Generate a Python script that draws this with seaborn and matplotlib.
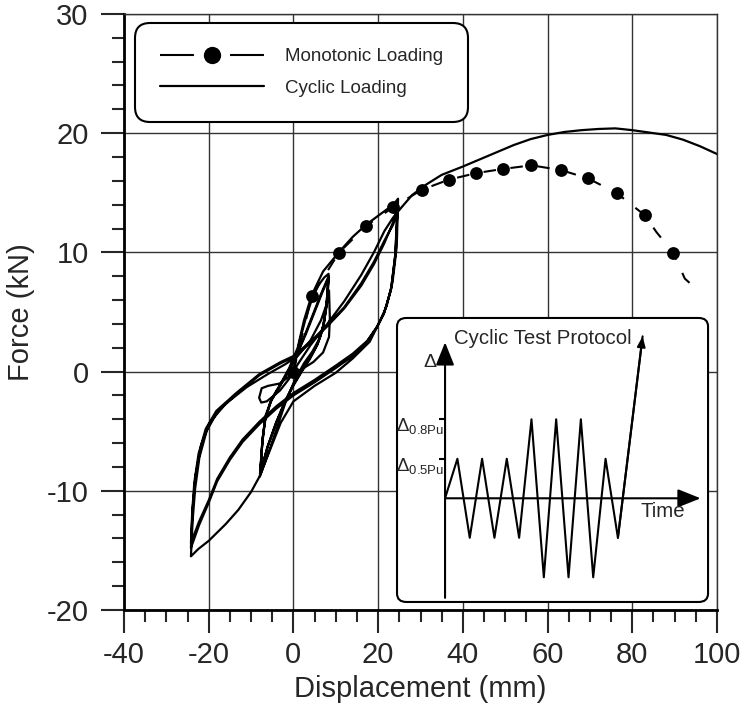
import numpy as np
import matplotlib
matplotlib.use("Agg")
import matplotlib.pyplot as plt
import seaborn as sns
from matplotlib.patches import FancyBboxPatch
from matplotlib.ticker import MultipleLocator
from matplotlib.legend_handler import HandlerTuple

sns.set_style("white")
plt.rcParams['font.family'] = ['Liberation Sans', 'DejaVu Sans']
plt.rcParams['axes.unicode_minus'] = False

# monotonic test: dashed curve and its circle markers (mm, kN)
mono_x = [0, 4.3, 10.7, 17.1, 23.6, 30.3, 36.7, 43.2, 49.5, 56.2, 63.2, 69.6, 76.4, 83.0, 85.7, 89.7, 92.4, 95.2]
mono_y = [0, 6.3, 9.95, 12.2, 13.8, 15.25, 16.1, 16.65, 17.0, 17.3, 16.9, 16.2, 14.95, 13.1, 11.7, 9.95, 7.8, 6.9]
mark_x = [0, 4.3, 10.7, 17.1, 23.6, 30.3, 36.7, 43.2, 49.5, 56.2, 63.2, 69.6, 76.4, 83.0, 89.7]
mark_y = [0, 6.3, 9.95, 12.2, 13.8, 15.25, 16.1, 16.65, 17.0, 17.3, 16.9, 16.2, 14.95, 13.1, 9.95]

# cyclic test, small cycles (+-8 mm)
small_x = [0, 1.5, 3, 4.5, 6, 7.3, 8.3,
           7.9, 7.3, 6.2, 4.5, 2.5, 0.5, -1.5, -3.5, -5.5, -7.9,
           -7.4, -6.8, -5.5, -3.5, -1.5, 0.5, 2.5, 4.5, 6.5, 8.3,
           7.8, 7.0, 5.8, 4.0, 2.0, 0.0, -2.0, -4.0, -6.0, -7.9,
           -7.3, -6.6, -5.2, -3.2, -1.2, 0.8, 3.0, 5.0, 7.0, 8.4,
           7.8, 6.9, 5.6, 3.8, 1.8, -0.2, -2.2, -4.2, -6.2, -7.8]
small_y = [0, 2.6, 4.6, 6.2, 7.3, 7.9, 8.2,
           6.0, 4.2, 2.8, 1.7, 0.7, -0.6, -2.2, -4.3, -6.4, -8.8,
           -6.2, -4.2, -2.6, -1.4, -0.2, 1.2, 2.9, 4.7, 6.5, 8.0,
           5.6, 3.8, 2.4, 1.2, 0.1, -1.1, -2.5, -4.2, -6.2, -8.6,
           -5.8, -3.9, -2.4, -1.2, 0.0, 1.4, 3.2, 5.0, 6.8, 7.9,
           5.4, 3.5, 2.2, 1.0, -0.1, -1.3, -2.7, -4.4, -6.4, -8.5]

# cyclic test, large cycles (+-24 mm)
big_x = [-7.3, -6.5, -5.0, -3.0, -1.0, 1.0, 2.5, 4.3, 7.0, 10.7, 14.0, 17.1, 20.5, 23.6, 24.7,
         24.4, 23.4, 22.0, 20.4, 18.0, 14.0, 10.0, 5.0, 0.0, -3.0, -6.0, -8.0, -10.0, -13.0, -16.0, -20.0, -22.5, -24.2,
         -23.8, -23.2, -22.2, -20.5, -18.0, -13.5, -8.0, -3.0, 0.0, 4.0, 8.0, 12.0, 16.0, 19.0, 21.5, 23.5, 24.6,
         24.1, 23.1, 21.5, 19.8, 17.5, 14.0, 10.0, 5.0, 0.0, -4.0, -8.0, -12.0, -15.0, -18.0, -20.0, -22.3, -24.2,
         -23.9, -23.4, -22.4, -20.7, -18.2, -13.5, -8.0, -3.0, 0.0, 4.0, 8.0, 12.0, 16.0, 19.0, 21.5, 23.5, 24.5,
         24.0, 23.0, 21.3, 19.5, 17.3, 14.0, 10.0, 5.0, 0.0, -4.0, -8.0, -12.0, -15.0, -18.0, -20.0, -22.3, -24.2]
big_y = [-5.6, -3.6, -2.2, -1.0, 0.3, 2.0, 4.3, 6.4, 8.4, 10.0, 11.3, 12.3, 13.2, 14.0, 14.5,
         10.5, 7.5, 5.5, 4.2, 2.5, 1.1, -0.1, -1.2, -2.5, -4.3, -7.0, -8.8, -10.1, -11.6, -12.8, -14.2, -14.9, -15.5,
         -12.5, -9.8, -7.2, -5.0, -3.4, -1.9, -0.3, 0.7, 1.2, 2.4, 3.8, 5.3, 7.2, 9.0, 10.8, 12.5, 13.8,
         10.0, 7.0, 5.0, 3.8, 2.6, 1.5, 0.5, -0.7, -1.8, -2.9, -4.2, -5.7, -7.2, -9.0, -10.8, -12.6, -14.4,
         -11.8, -9.3, -6.9, -4.8, -3.3, -1.8, -0.2, 0.8, 1.3, 2.5, 3.9, 5.4, 7.4, 9.2, 11.0, 12.3, 13.2,
         9.6, 6.8, 4.8, 3.6, 2.5, 1.3, 0.3, -0.9, -2.0, -3.1, -4.4, -5.9, -7.4, -9.2, -11.0, -12.9, -14.8]

# last small cycle and push to failure
push_x = [-23.8, -23.1, -21.8, -19.8, -16.0, -11.0, -6.0, -2.0, 1.0, 4.0, 6.5, 8.0, 8.4,
          8.6, 8.4, 7.0, 4.7, 2.0, -1.0, -3.2, -6.0, -7.5, -8.1,
          -7.6, -6.3, -3.2, -1.0, 1.0, 4.0, 8.0, 12.0, 16.0, 19.0, 21.5, 23.5, 25.1, 28.0, 31.4, 35.0,
          40.0, 44.0, 48.0, 52.0, 56.0, 60.0, 64.0, 68.0, 72.0, 76.0, 80.0, 84.0, 88.0, 92.0, 96.0, 100.0]
push_y = [-11.5, -8.7, -6.2, -4.3, -2.7, -1.3, -0.2, 0.6, 1.3, 2.6, 4.3, 5.8, 6.8,
          4.5, 2.9, 1.6, 0.8, 0.2, -0.4, -1.0, -1.2, -1.4, -2.2,
          -2.6, -2.5, -1.6, -0.6, 0.6, 2.2, 4.0, 5.9, 8.1, 10.0, 11.8, 12.9, 13.6, 14.8, 15.7, 16.5,
          17.2, 17.8, 18.4, 19.0, 19.5, 19.85, 20.1, 20.25, 20.35, 20.4, 20.25, 20.05, 19.85, 19.45, 18.9, 18.25]

# loading protocol sketch (time step, displacement level)
proto_t = [0, 1, 2, 3, 4, 5, 6, 7, 8, 9, 10, 11, 12, 13, 14, 16]
proto_d = [0, 1, -1, 1, -1, 1, -1, 2, -2, 2, -2, 2, -2, 1, -1, 4.1]
level_vals = [1, 2]
level_labels = [r'Δ$_{\mathregular{0.5Pu}}$', r'Δ$_{\mathregular{0.8Pu}}$']

cyc_x = np.concatenate([small_x, big_x, push_x])
cyc_y = np.concatenate([small_y, big_y, push_y])

fig = plt.figure(figsize=(7.43, 7.15), dpi=100)
ax = fig.add_axes([0.1669, 0.1469, 0.7981, 0.8336])

sns.lineplot(x=cyc_x, y=cyc_y, sort=False, estimator=None, color='k', lw=1.6, ax=ax)
sns.lineplot(x=mono_x, y=mono_y, sort=False, estimator=None, color='k', lw=1.5,
             ls=(0, (6, 7)), ax=ax)
sns.scatterplot(x=mark_x, y=mark_y, color='k', s=85, edgecolor='k', linewidth=0, zorder=4, ax=ax)

ax.set_xlim(-40, 100)
ax.set_ylim(-20, 30)
ax.xaxis.set_major_locator(MultipleLocator(20))
ax.xaxis.set_minor_locator(MultipleLocator(5))
ax.yaxis.set_major_locator(MultipleLocator(10))
ax.yaxis.set_minor_locator(MultipleLocator(2))
ax.tick_params(which='major', direction='out', length=16.5, width=1.5, labelsize=21,
               bottom=True, left=True, top=False, right=False)
ax.tick_params(axis='x', which='major', pad=6)
ax.tick_params(axis='y', which='major', pad=9)
ax.tick_params(which='minor', direction='out', length=8.5, width=1.5,
               bottom=True, left=True, top=False, right=False)
ax.grid(True, which='major', color='#333333', lw=1.0)
for side in ['left', 'bottom']:
    ax.spines[side].set_linewidth(2)
    ax.spines[side].set_color('k')
for side in ['top', 'right']:
    ax.spines[side].set_linewidth(1)
    ax.spines[side].set_color('#333333')
ax.set_xlabel('Displacement (mm)', fontsize=21, labelpad=4)
ax.set_ylabel('Force (kN)', fontsize=21, labelpad=8)

# legend: dashed line with a circle on top of it
cyc_line, mono_line = ax.lines[0], ax.lines[1]
mono_pts = ax.collections[0]
leg = ax.legend([(mono_line, mono_pts), cyc_line], ['Monotonic Loading', 'Cyclic Loading'],
                handler_map={tuple: HandlerTuple(ndivide=1)}, loc='upper left',
                bbox_to_anchor=(0.0185, 0.985), borderaxespad=0, fontsize=13.5,
                handlelength=5.55, handletextpad=1.1, borderpad=1.35, labelspacing=0.75,
                markerscale=1.35, scatteryoffsets=[0.5], framealpha=1, edgecolor='k', fancybox=True)
leg.get_frame().set_linewidth(1.5)
leg.get_frame().set_boxstyle('round', pad=0, rounding_size=0.8)
leg.legend_handles[0].set_linestyle((0, (16.3, 17.3)))

# inset with the cyclic test protocol
ax_in = ax.inset_axes([0.4604, 0.0134, 0.5245, 0.4765])
box = FancyBboxPatch((0, 0), 1, 1, boxstyle='round,pad=0,rounding_size=0.03', transform=ax_in.transAxes,
                     fc='white', ec='k', lw=1.5, clip_on=False, zorder=0)
ax_in.add_patch(box)
sns.lineplot(x=proto_t, y=proto_d, sort=False, estimator=None, color='k', lw=1.5, ax=ax_in)
arrow = dict(arrowstyle='-|>,head_length=0.7,head_width=0.28', color='k', lw=1.5,
             shrinkA=0, shrinkB=0, mutation_scale=20)
ax_in.annotate('', xy=(0, 3.95), xytext=(0, -2.52), arrowprops=arrow)
ax_in.annotate('', xy=(20.7, 0), xytext=(0, 0), arrowprops=arrow)
ax_in.annotate('', xy=(proto_t[-1], proto_d[-1]), xytext=(proto_t[-2], proto_d[-2]),
               arrowprops=dict(arrowstyle='-|>,head_length=0.3,head_width=0.12', color='k', lw=1.5,
                               shrinkA=0, shrinkB=0, mutation_scale=20))
ax_in.hlines(level_vals, -0.5, 0, color='k', lw=1.5)
for lv, lab in zip(level_vals, level_labels):
    ax_in.text(-0.05, lv - 0.2, lab, ha='right', va='center', fontsize=13.5)
ax_in.text(-1.2, 3.45, 'Δ', ha='center', va='center', fontsize=14)
ax_in.text(7.94, 4.04, 'Cyclic Test Protocol', ha='center', va='center', fontsize=14.7)
ax_in.text(17.6, -0.34, 'Time', ha='center', va='center', fontsize=14.7)
ax_in.set_xlim(-3.89, 21.3)
ax_in.set_ylim(-2.625, 4.565)
ax_in.axis('off')

fig.savefig('out.png', dpi=100)
